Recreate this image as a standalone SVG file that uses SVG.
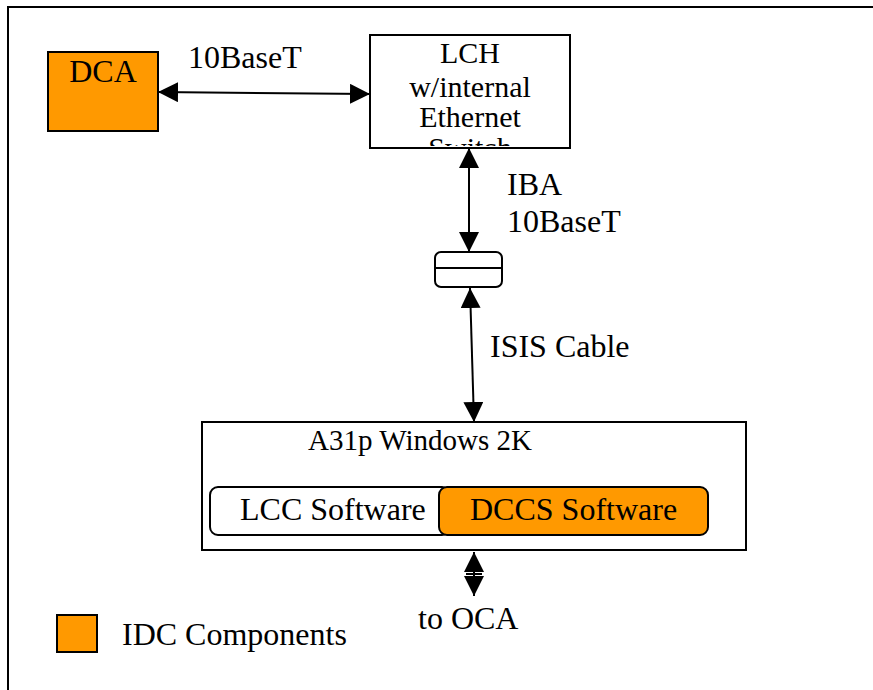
<svg xmlns="http://www.w3.org/2000/svg" width="873" height="690" viewBox="0 0 873 690">
<style>
.t{font-family:"Liberation Serif","Times New Roman",serif;fill:#000;font-size:32px}
.box{fill:#fff;stroke:#000;stroke-width:2}
.org{fill:#FF9900;stroke:#000;stroke-width:2}
.ln{stroke:#000;stroke-width:2;fill:none}
</style>
<defs>
<marker id="ah" markerUnits="userSpaceOnUse" markerWidth="20" markerHeight="20" refX="20" refY="10" orient="auto-start-reverse" viewBox="0 0 20 20">
<path d="M0,0 L20,10 L0,20 Z" fill="#000"/>
</marker>
<clipPath id="lchclip"><rect x="371" y="36" width="198" height="110"/></clipPath>
</defs>
<rect x="0" y="0" width="873" height="690" fill="#fff"/>
<rect id="frame" x="8" y="7" width="880" height="700" fill="none" stroke="#000" stroke-width="2"/>

<g id="dca">
<rect class="org" x="48" y="52" width="110" height="79"/>
<text class="t" x="103" y="82" text-anchor="middle">DCA</text>
</g>

<g id="lch">
<rect class="box" x="370" y="35" width="200" height="113"/>
<g clip-path="url(#lchclip)">
<text class="t" x="470" y="63" text-anchor="middle" style="font-size:30px">LCH</text>
<text class="t" x="470" y="97" text-anchor="middle" style="font-size:30px">w/internal</text>
<text class="t" x="470" y="127" text-anchor="middle" style="font-size:30px">Ethernet</text>
<text class="t" x="470" y="158" text-anchor="middle" style="font-size:30px">Switch</text>
</g>
</g>

<g id="connector">
<rect class="box" x="435" y="252" width="67" height="35" rx="6"/>
<line class="ln" x1="435" y1="268" x2="502" y2="268"/>
</g>

<g id="a31p">
<rect class="box" x="202" y="422" width="544" height="128"/>
<text class="t" x="308" y="450" style="font-size:29px">A31p Windows 2K</text>
</g>

<g id="lcc">
<rect class="box" x="210" y="487" width="240" height="48" rx="8"/>
<text class="t" x="240" y="520">LCC Software</text>
</g>

<g id="dccs">
<rect class="org" x="439" y="487" width="269" height="48" rx="8"/>
<text class="t" x="470" y="520">DCCS Software</text>
</g>

<g id="legend">
<rect class="org" x="57" y="615" width="40" height="37"/>
<text class="t" x="122" y="645">IDC Components</text>
</g>

<g id="connectors">
<line class="ln" x1="158" y1="92" x2="370" y2="94" marker-start="url(#ah)" marker-end="url(#ah)"/>
<line class="ln" x1="469" y1="148" x2="469" y2="252" marker-start="url(#ah)" marker-end="url(#ah)"/>
<line class="ln" x1="470" y1="288" x2="474" y2="422" marker-start="url(#ah)" marker-end="url(#ah)"/>
<line class="ln" x1="474" y1="552" x2="474" y2="573" marker-start="url(#ah)"/>
<line class="ln" x1="474" y1="575" x2="474" y2="596" marker-end="url(#ah)"/>
<line class="ln" x1="466" y1="574" x2="482" y2="574"/>
</g>

<g id="labels">
<text class="t" x="188" y="68">10BaseT</text>
<text class="t" x="507" y="195">IBA</text>
<text class="t" x="507" y="232">10BaseT</text>
<text class="t" x="490" y="357">ISIS Cable</text>
<text class="t" x="418" y="629">to OCA</text>
</g>
</svg>
